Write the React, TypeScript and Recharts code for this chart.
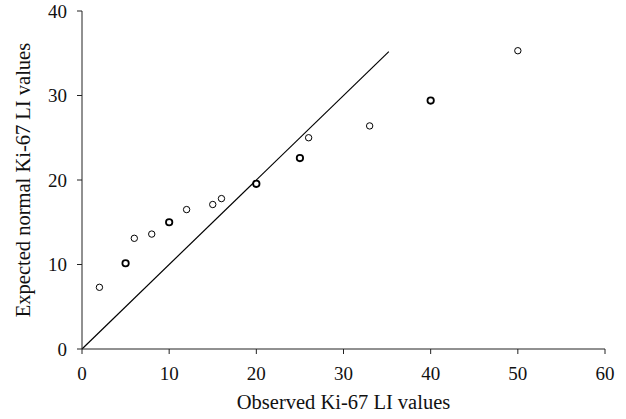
import React from 'react';
import { ScatterChart, Scatter, XAxis, YAxis, ReferenceLine } from 'recharts';

// observed vs expected Ki-67 LI (ties = how many cases share a point)
const observed = [2, 5, 6, 8, 10, 12, 15, 16, 20, 25, 26, 33, 40, 50];
const expected = [7.3, 10.15, 13.1, 13.6, 15.0, 16.5, 17.1, 17.8, 19.55, 22.6, 25.0, 26.4, 29.4, 35.3];
const ties = [1, 2, 1, 1, 2, 1, 1, 1, 2, 2, 1, 1, 2, 1];

const xTicks = [0, 10, 20, 30, 40, 50, 60];
const yTicks = [0, 10, 20, 30, 40];
const identityLine = [{ x: 0, y: 0 }, { x: 35.2, y: 35.2 }];

const FONT = '"Liberation Serif", "DejaVu Serif", serif';
const AXIS = '#222';

const points = observed.map((x, i) => ({ x, y: expected[i], n: ties[i] }));

const Ring = (props: any) => {
  const { cx, cy, payload } = props;
  return (
    <circle cx={cx} cy={cy} r={3.2} fill="#fff" stroke="#000" strokeWidth={payload.n > 1 ? 1.8 : 1} />
  );
};

const XTick = (props: any) => (
  <text x={props.x} y={props.y} dy="0.71em" textAnchor="middle"
    style={{ fontFamily: FONT }} fontSize={19} fill="#111">
    {props.payload.value}
  </text>
);

const YTick = (props: any) => (
  <text x={props.x} y={props.y} dy="0.355em" textAnchor="end"
    style={{ fontFamily: FONT }} fontSize={19} fill="#111">
    {props.payload.value}
  </text>
);

const YTitle = (props: any) => {
  const { viewBox } = props;
  const cy = viewBox.y + viewBox.height / 2;
  return (
    <text x={30} y={cy} transform={`rotate(-90, 30, ${cy})`} textAnchor="middle"
      style={{ fontFamily: FONT }} fontSize={20.5} fill="#111">
      Expected normal Ki-67 LI values
    </text>
  );
};

const XTitle = (props: any) => {
  const { viewBox } = props;
  const cx = viewBox.x + viewBox.width / 2;
  return (
    <text x={cx} y={409} textAnchor="middle" style={{ fontFamily: FONT }} fontSize={20.5} fill="#111">
      Observed Ki-67 LI values
    </text>
  );
};

export default function App() {
  return (
    <div style={{ position: 'absolute', left: 0, top: 0, background: '#fff' }}>
      <ScatterChart width={626} height={419} margin={{ top: 11, right: 21, bottom: 0, left: 0 }}>
        <XAxis
          type="number"
          dataKey="x"
          domain={[0, 60]}
          ticks={xTicks}
          height={70}
          tickSize={5}
          tickMargin={13}
          stroke={AXIS}
          tick={<XTick />}
          label={<XTitle />}
        />
        <YAxis
          type="number"
          dataKey="y"
          domain={[0, 40]}
          ticks={yTicks}
          width={82}
          tickSize={5}
          tickMargin={10}
          stroke={AXIS}
          tick={<YTick />}
          label={<YTitle />}
        />
        <ReferenceLine segment={identityLine} stroke="#000" strokeWidth={1.2} />
        <Scatter data={points} shape={<Ring />} isAnimationActive={false} />
      </ScatterChart>
    </div>
  );
}
